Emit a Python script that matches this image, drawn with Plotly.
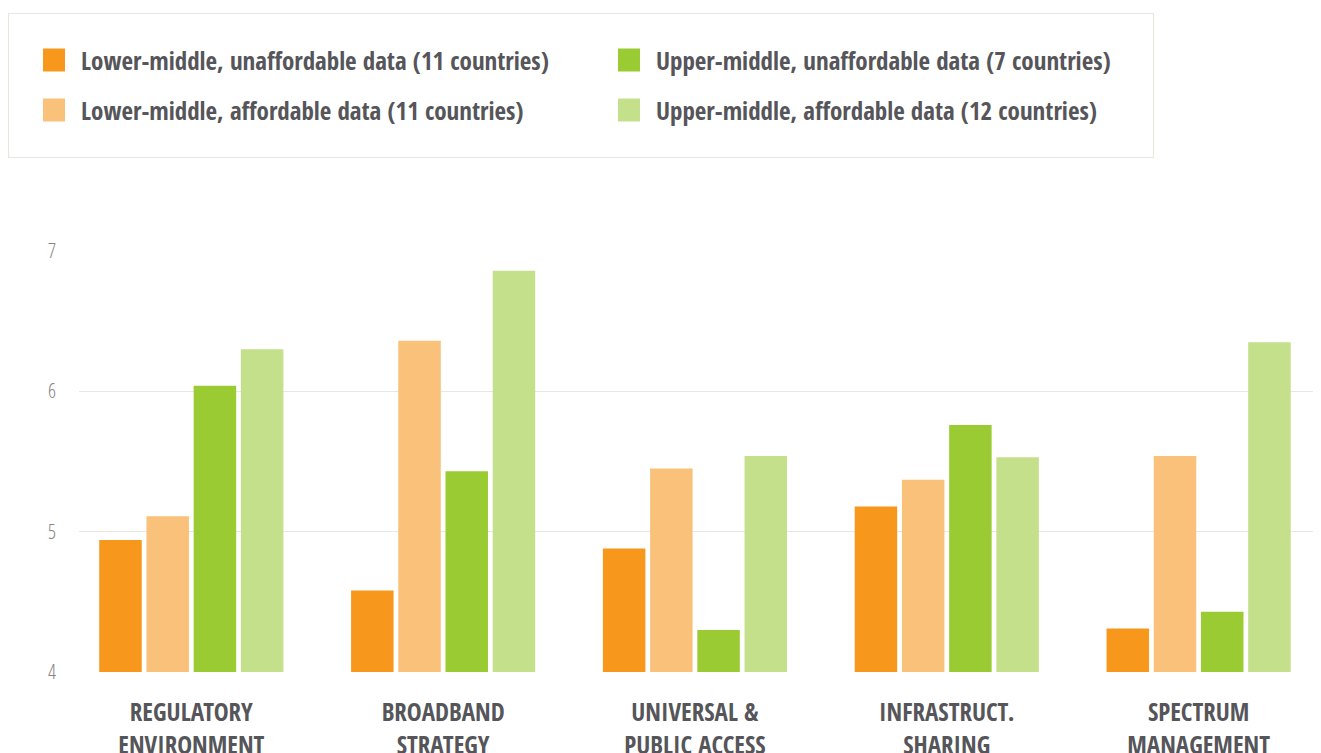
import plotly.graph_objects as go

# Data
categories = [
    "REGULATORY<br>ENVIRONMENT",
    "BROADBAND<br>STRATEGY",
    "UNIVERSAL &<br>PUBLIC ACCESS",
    "INFRASTRUCT.<br>SHARING",
    "SPECTRUM<br>MANAGEMENT",
]
series_names = [
    "Lower-middle, unaffordable data (11 countries)",
    "Lower-middle, affordable data (11 countries)",
    "Upper-middle, unaffordable data (7 countries)",
    "Upper-middle, affordable data (12 countries)",
]
lm_unaffordable = [4.94, 4.58, 4.88, 5.18, 4.31]
lm_affordable = [5.11, 6.36, 5.45, 5.37, 5.54]
um_unaffordable = [6.04, 5.43, 4.30, 5.76, 4.43]
um_affordable = [6.30, 6.86, 5.54, 5.53, 6.35]
y_ticks = [4, 5, 6, 7]

COLORS = ["#F7981D", "#F9C179", "#9ACB33", "#C4E08A"]
FONT = "Open Sans Condensed, Liberation Sans Narrow, DejaVu Sans Condensed, Roboto, sans-serif"
TICK_FONT = "Open Sans Condensed Light, Open Sans, Roboto, sans-serif"
TEXT_DARK = "#55555a"

# page body has an 8px margin, so the figure is drawn a bit smaller
OFF = 8
W, H = 1321 - OFF, 753 - OFF
PLOT_L, PLOT_T, PLOT_B = 79 - OFF, 251 - OFF, 672 - OFF


def px_x(px):
    # screenshot x pixel -> paper coordinate
    return (px - OFF - PLOT_L) / (W - PLOT_L)


def px_y(py):
    return (PLOT_B - (py - OFF)) / (PLOT_B - PLOT_T)


fig = go.Figure()
for name, vals, color in zip(
    series_names,
    [lm_unaffordable, lm_affordable, um_unaffordable, um_affordable],
    COLORS,
):
    fig.add_trace(
        go.Bar(
            x=categories,
            y=vals,
            name=name,
            marker=dict(color=color, line=dict(width=0)),
            showlegend=False,
            hovertemplate="%{y:.2f}<extra>" + name + "</extra>",
        )
    )

# Manual legend box with big square swatches
shapes = [
    dict(
        type="rect", xref="paper", yref="paper",
        x0=px_x(8.5), x1=px_x(1153.5), y0=px_y(157.5), y1=px_y(13.5),
        line=dict(color="#E9E6DF", width=1.2), fillcolor="rgba(0,0,0,0)",
        layer="below",
    )
]
annotations = []
legend_pos = [(43, 60), (43, 110), (618, 60), (618, 110)]
for (lx, ly), name, color in zip(legend_pos, series_names, COLORS):
    shapes.append(
        dict(
            type="rect", xref="paper", yref="paper",
            x0=px_x(lx), x1=px_x(lx + 22), y0=px_y(ly + 11.5), y1=px_y(ly - 11.5),
            line=dict(width=0), fillcolor=color,
        )
    )
    annotations.append(
        dict(
            xref="paper", yref="paper", x=px_x(lx + 36), y=px_y(ly),
            xanchor="left", yanchor="middle", showarrow=False,
            text="<b>" + name + "</b>",
            font=dict(family=FONT, size=25, color=TEXT_DARK),
        )
    )

fig.update_layout(
    width=W,
    height=H,
    margin=dict(l=PLOT_L, r=0, t=PLOT_T, b=H - PLOT_B, pad=0),
    paper_bgcolor="white",
    plot_bgcolor="white",
    barmode="group",
    bargap=0.25,
    bargroupgap=0.1,
    font=dict(family=FONT),
    shapes=shapes,
    annotations=annotations,
    xaxis=dict(
        range=[-0.446, 4.486],
        automargin=False,
        showgrid=False,
        showline=False,
        zeroline=False,
        ticks="",
        ticklabelstandoff=23,
        tickfont=dict(family=FONT, size=25, color=TEXT_DARK),
        tickprefix="<b>",
        ticksuffix="</b>",
    ),
    yaxis=dict(
        range=[4, 7],
        automargin=False,
        tickvals=y_ticks,
        showgrid=True,
        # gridlines sit on top of the bars, slightly see-through
        gridcolor="rgba(130,105,70,0.17)",
        gridwidth=1.2,
        layer="above traces",
        zeroline=False,
        showline=False,
        ticks="",
        ticklabelstandoff=22,
        tickfont=dict(family=TICK_FONT, size=20, color="#858585", weight=300),
    ),
)

fig.write_html("out.html")
